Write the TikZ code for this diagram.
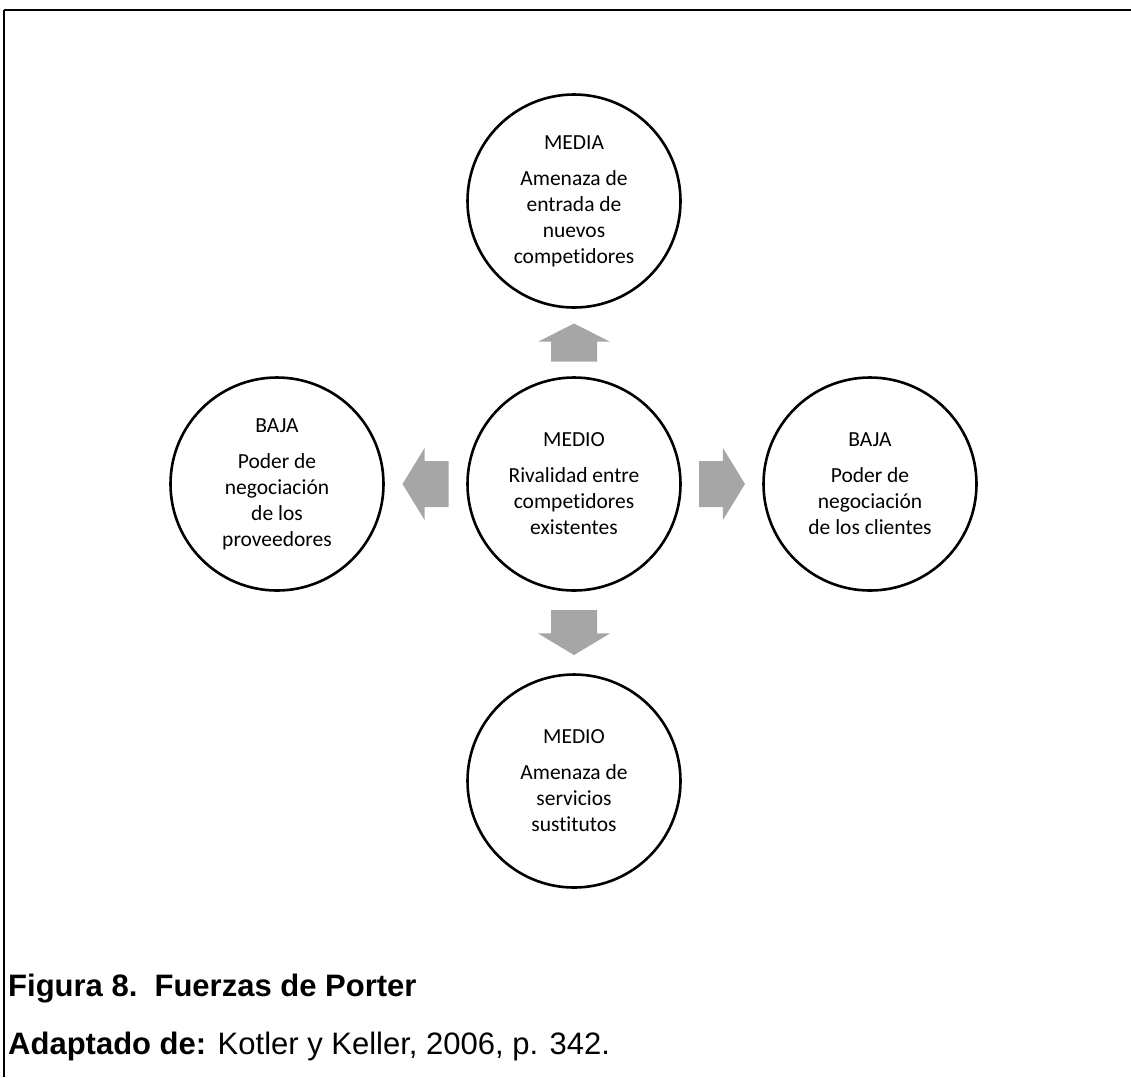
\documentclass[tikz,border=0pt]{standalone}
\usepackage{fontspec}
\setmainfont{Carlito}[Ligatures=NoCommon]
\newfontfamily\capfont{Liberation Sans}
\usetikzlibrary{calc}

\definecolor{arrowgray}{RGB}{166,166,166}

\tikzset{
  force/.style={circle, draw=black, line width=2.6pt, minimum size=213pt,
    inner sep=0pt, align=center, font=\fontsize{21.5}{26}\selectfont},
  caption/.style={anchor=base west, inner sep=0pt,
    font=\capfont\fontsize{31}{37}\selectfont},
  pics/blockarrow/.style={code={
    \fill[arrowgray] (-#1/2,-23) -- (#1/2-0.48*#1,-23) -- (#1/2-0.48*#1,-36)
      -- (#1/2,0) -- (#1/2-0.48*#1,36) -- (#1/2-0.48*#1,23) -- (-#1/2,23) -- cycle;
  }}
}

\begin{document}
\begin{tikzpicture}[x=1pt, y=1pt]
  \useasboundingbox (0,0) rectangle (1131,-1077);

  \coordinate (FrB) at (4,-1077);
  \coordinate (FrL) at (4,-10);
  \coordinate (FrR) at (1131,-10);
  \draw[line width=1.8pt] (FrB) -- (FrL);
  \draw[line width=2.6pt] (FrL) -- (FrR);

  \coordinate (Cmid) at (574,-484);
  \coordinate (Ctop) at (574,-201);
  \coordinate (Cbot) at (574,-781);
  \coordinate (Cleft) at (277,-484);
  \coordinate (Cright) at (870,-484);

  \node[force] (mid) at (Cmid) {MEDIO\\[10pt]Rivalidad entre\\competidores\\existentes};
  \node[force] (top) at (Ctop) {MEDIA\\[10pt]Amenaza de\\entrada de\\nuevos\\competidores};
  \node[force] (bot) at (Cbot) {MEDIO\\[10pt]Amenaza de\\servicios\\sustitutos};
  \node[force] (left) at (Cleft) {BAJA\\[10pt]Poder de\\negociación\\de los\\proveedores};
  \node[force] (right) at (Cright) {BAJA\\[10pt]Poder de\\negociación\\de los clientes};

  \pic[rotate=90] (upA) at ($(mid)!0.5!(top)$) {blockarrow=38};
  \pic[rotate=-90] (downA) at ($(mid)!0.5!(bot)$) {blockarrow=45};
  \pic[rotate=180] (leftA) at ($(mid)!0.5!(left)$) {blockarrow=46};
  \pic (rightA) at ($(mid)!0.5!(right)$) {blockarrow=46};

  \node[caption] (fig) at (8,-996) {\bfseries Figura 8.\ \ Fuerzas de Porter};
  \node[caption] (src) at (8,-1054) {\textbf{Adaptado de:} Kotler y Keller, 2006, p. 342.};
\end{tikzpicture}
\end{document}
